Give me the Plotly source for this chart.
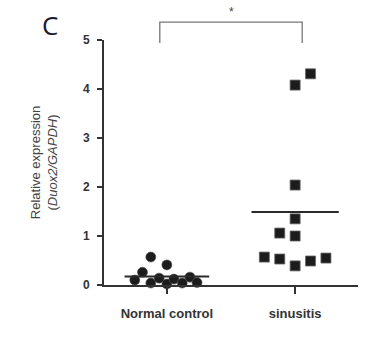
import plotly.graph_objects as go

categories = ["Normal control", "sinusitis"]
control_values = [0.10, 0.26, 0.57, 0.04, 0.14, 0.41, 0.02, 0.12, 0.04, 0.16, 0.05]
control_jitter = [-0.25, -0.19, -0.125, -0.125, -0.06, 0.0, 0.0, 0.055, 0.12, 0.18, 0.235]
sinus_values = [4.31, 4.08, 2.04, 1.35, 1.06, 1.00, 0.57, 0.53, 0.39, 0.49, 0.55]
sinus_jitter = [0.12, 0.0, 0.0, 0.0, -0.12, 0.0, -0.24, -0.12, 0.0, 0.12, 0.24]
y_ticks = [0, 1, 2, 3, 4, 5]

mean_c = sum(control_values) / len(control_values)
mean_s = sum(sinus_values) / len(sinus_values)

fig = go.Figure()
fig.add_trace(go.Scatter(
    x=[0 + j for j in control_jitter], y=control_values, mode="markers",
    marker=dict(symbol="circle", size=10, color="#1c1c1c", line=dict(width=0.6, color="#555")),
    cliponaxis=False, showlegend=False))
fig.add_trace(go.Scatter(
    x=[1 + j for j in sinus_jitter], y=sinus_values, mode="markers",
    marker=dict(symbol="square", size=10, color="#1c1c1c", line=dict(width=0.8, color="#666")),
    cliponaxis=False, showlegend=False))
# mean lines
fig.add_trace(go.Scatter(x=[-0.33, 0.33], y=[mean_c, mean_c], mode="lines",
                         line=dict(color="#2a2a2a", width=2), cliponaxis=False, showlegend=False))
fig.add_trace(go.Scatter(x=[0.66, 1.34], y=[mean_s, mean_s], mode="lines",
                         line=dict(color="#2a2a2a", width=2), cliponaxis=False, showlegend=False))

# significance bracket (x in data units, y in paper units)
fig.add_shape(type="path", xref="x", yref="paper",
              path="M -0.055,0.988 L -0.055,1.073 L 1.055,1.073 L 1.055,0.988",
              line=dict(color="#777", width=1.3))
fig.add_annotation(x=0.5, y=1.078, xref="x", yref="paper", text="*", showarrow=False,
                   yanchor="bottom", font=dict(size=12, color="#444", family="Arial"))
fig.add_annotation(x=(50 - 104) / 254, y=1 + (40 - 25) / 245, xref="paper", yref="paper",
                   text="C", showarrow=False, xanchor="center", yanchor="middle",
                   font=dict(size=26, color="#1a1a28", family="Open Sans"))

fig.update_layout(
    width=375, height=340,
    margin=dict(l=104, r=17, t=40, b=55),
    plot_bgcolor="white", paper_bgcolor="white",
    font=dict(family="Arial", color="#333"),
    xaxis=dict(range=[-0.49, 1.49], tickmode="array", tickvals=[0, 1],
               ticktext=["<b>" + c + "</b>" for c in categories],
               showline=True, linecolor="#333", linewidth=2, ticks="outside",
               ticklen=7, tickwidth=1.5, tickcolor="#333", showgrid=False, zeroline=False,
               ticklabelstandoff=8,
               tickfont=dict(size=13, color="#333", family="Arial")),
    yaxis=dict(range=[0, 5], tickmode="array", tickvals=y_ticks,
               ticktext=["<b>%d</b>" % t for t in y_ticks],
               showline=True, linecolor="#333", linewidth=2, ticks="outside",
               ticklen=5, tickwidth=1.5, tickcolor="#333", showgrid=False, zeroline=False,
               ticklabelstandoff=5,
               tickfont=dict(size=12, color="#333", family="Arial"),
               title=dict(text="Relative expression<br>(<i>Duox2/GAPDH</i>)",
                          font=dict(size=13, color="#444", family="Arial"), standoff=22)),
)
fig.write_html("out.html")
